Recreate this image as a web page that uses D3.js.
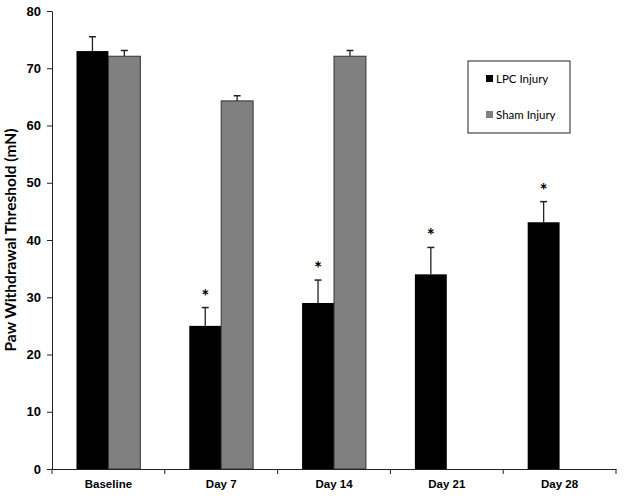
<!DOCTYPE html>
<html>
<head>
<meta charset="utf-8">
<script src="https://cdn.jsdelivr.net/npm/d3@7"></script>
<style>
  body { margin: 0; background: #fff; }
  svg { font-family: Lato, "Open Sans", sans-serif; }
  .axis path, .axis line { stroke: #222; }
  .axis text { font-weight: bold; fill: #000; }
</style>
</head>
<body>
<svg id="chart" width="624" height="498"></svg>
<script>
// data
var categories = ["Baseline", "Day 7", "Day 14", "Day 21", "Day 28"];
var seriesNames = ["LPC Injury", "Sham Injury"];
var lpcMeans = [73, 25, 29, 34, 43.1];
var lpcErr = [2.5, 3.2, 4.0, 4.7, 3.6];
var shamMeans = [72.1, 64.3, 72.1, null, null];
var shamErr = [1.0, 0.9, 1.0, null, null];
var significant = [false, true, true, true, true];
var yTicks = [0, 10, 20, 30, 40, 50, 60, 70, 80];

var svg = d3.select("#chart");
var margin = { top: 11, right: 8, bottom: 29, left: 52 },
  width = +svg.attr("width") - margin.left - margin.right,
  height = +svg.attr("height") - margin.top - margin.bottom;
var g = svg.append("g")
  .attr("transform", "translate(" + margin.left + "," + margin.top + ")");

var x0 = d3.scaleBand().domain(categories).range([0, width]);
var bw = x0.bandwidth();
var x1 = d3.scaleBand().domain(seriesNames).range([bw * 0.217, bw * 0.783]);
var y = d3.scaleLinear().domain([0, 80]).range([height, 0]);
var color = d3.scaleOrdinal().domain(seriesNames).range(["#000000", "#808080"]);

var rows = [];
categories.forEach(function (c, i) {
  rows.push({ cat: c, name: seriesNames[0], v: lpcMeans[i], e: lpcErr[i], star: significant[i] });
  if (shamMeans[i] != null)
    rows.push({ cat: c, name: seriesNames[1], v: shamMeans[i], e: shamErr[i], star: false });
});

// bars
g.selectAll("rect.bar")
  .data(rows)
  .enter().append("rect")
  .attr("class", "bar")
  .attr("x", function (d) { return x0(d.cat) + x1(d.name); })
  .attr("y", function (d) { return y(d.v); })
  .attr("width", x1.bandwidth())
  .attr("height", function (d) { return height - y(d.v); })
  .style("fill", function (d) { return color(d.name); })
  .style("stroke", function (d) { return d.name === seriesNames[1] ? "#333" : "none"; })
  .style("stroke-width", 1);

// error bars (upper only)
var eb = g.selectAll("g.err")
  .data(rows)
  .enter().append("g")
  .attr("class", "err")
  .attr("transform", function (d) {
    return "translate(" + (x0(d.cat) + x1(d.name) + x1.bandwidth() / 2) + ",0)";
  });
eb.append("line")
  .attr("y1", function (d) { return y(d.v); })
  .attr("y2", function (d) { return y(d.v + d.e); })
  .style("stroke", "#222").style("stroke-width", 1.3);
eb.append("line")
  .attr("x1", -3.5).attr("x2", 3.5)
  .attr("y1", function (d) { return y(d.v + d.e); })
  .attr("y2", function (d) { return y(d.v + d.e); })
  .style("stroke", "#222").style("stroke-width", 1.5);

// asterisks
g.selectAll("text.star")
  .data(rows.filter(function (d) { return d.star; }))
  .enter().append("text")
  .attr("class", "star")
  .attr("x", function (d) { return x0(d.cat) + x1(d.name) + x1.bandwidth() / 2; })
  .attr("y", function (d) { return y(d.v + d.e) - 5; })
  .attr("text-anchor", "middle")
  .style("font-size", "19px")
  .style("font-weight", "bold")
  .text("*");

// axes
var xAxis = g.append("g")
  .attr("class", "axis")
  .attr("transform", "translate(0," + height + ")")
  .call(d3.axisBottom(x0).tickSize(0).tickPadding(11));
xAxis.selectAll("text").style("font-size", "11.5px");
xAxis.selectAll(".bound")
  .data(d3.range(categories.length + 1))
  .enter().append("line")
  .attr("class", "bound")
  .attr("x1", function (i) { return i * bw; })
  .attr("x2", function (i) { return i * bw; })
  .attr("y1", 0).attr("y2", 5)
  .style("stroke", "#222");

var yAxis = g.append("g")
  .attr("class", "axis")
  .call(d3.axisLeft(y).tickValues(yTicks).tickSize(5).tickPadding(6).tickSizeOuter(0));
yAxis.selectAll("text").style("font-size", "13px");

g.append("text")
  .attr("transform", "rotate(-90)")
  .attr("x", -height / 2)
  .attr("y", -36)
  .attr("text-anchor", "middle")
  .style("font-size", "15.5px")
  .style("font-weight", "bold")
  .text("Paw Withdrawal Threshold (mN)");

// legend
var legend = svg.append("g").attr("transform", "translate(468,61)");
legend.append("rect")
  .attr("width", 102).attr("height", 72)
  .style("fill", "#fff").style("stroke", "#222").style("stroke-width", 1);
var items = legend.selectAll("g.item")
  .data(seriesNames)
  .enter().append("g")
  .attr("class", "item")
  .attr("transform", function (d, i) { return "translate(18," + (18 + i * 36) + ")"; });
items.append("rect")
  .attr("y", -4).attr("width", 7).attr("height", 7)
  .style("fill", function (d) { return color(d); });
items.append("text")
  .attr("x", 10).attr("y", 4)
  .style("font-size", "11.5px")
  .text(function (d) { return d; });
</script>
</body>
</html>
